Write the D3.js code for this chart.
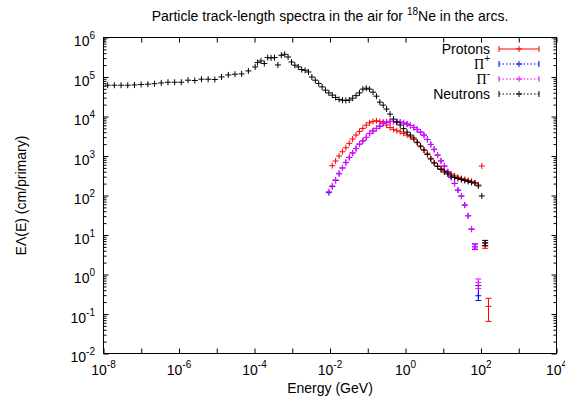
<!DOCTYPE html>
<html>
<head>
<meta charset="utf-8">
<script src="https://cdn.jsdelivr.net/npm/d3@7"></script>
<style>
  body { margin: 0; background: #fff; }
  svg { display: block; font-family: "Liberation Sans", Arial, Helvetica, sans-serif; }
</style>
</head>
<body>
<svg id="chart" width="565" height="400"></svg>
<script>
// Energy bins (GeV) of the low-energy neutron groups
const coarseE = [1.29e-8, 1.94e-8, 2.92e-8, 4.39e-8, 6.61e-8, 9.94e-8, 1.50e-7, 2.25e-7, 3.39e-7,
  5.10e-7, 7.67e-7, 1.15e-6, 1.74e-6, 2.62e-6, 3.94e-6, 5.92e-6, 8.91e-6, 1.34e-5, 2.02e-5,
  3.04e-5, 4.57e-5, 6.88e-5, 1.04e-4];

// Track-length of neutrons in the low-energy groups (cm/primary, times E)
const neutronLow = [61900, 61900, 61900, 61900, 63000, 64600, 65800, 67700, 70900,
  73800, 73800, 73800, 83000, 81500, 87900, 87900, 86300, 100400, 113000,
  117500, 119700, 142600, 179900];

// Energy bins (GeV) of the high-energy scoring
const fineE = [9.77e-5, 1.20e-4, 1.48e-4, 1.82e-4, 2.24e-4, 2.75e-4, 3.39e-4, 4.17e-4, 5.13e-4,
  6.31e-4, 7.76e-4, 9.55e-4, 1.17e-3, 1.45e-3, 1.78e-3, 2.19e-3, 2.69e-3, 3.31e-3, 4.07e-3,
  5.01e-3, 6.17e-3, 7.59e-3, 9.33e-3, 1.15e-2, 1.41e-2, 1.74e-2, 2.14e-2, 2.63e-2, 3.24e-2,
  3.98e-2, 4.90e-2, 6.03e-2, 7.41e-2, 9.12e-2, 0.112, 0.138, 0.170, 0.209, 0.257,
  0.316, 0.389, 0.479, 0.589, 0.724, 0.891, 1.10, 1.35, 1.66, 2.04,
  2.51, 3.09, 3.80, 4.68, 5.75, 7.08, 8.71, 10.7, 13.2, 16.2,
  20.0, 24.5, 30.2, 37.2, 45.7, 56.2, 69.2, 85.1, 105, 129, 158];

// Values on the high-energy bins (null = no entry)
const neutronHigh = [null, 232000, 255000, 219000, 310000, 305000, 310000, 202000, 355000,
  376000, 321000, 240000, 199000, 180000, 154000, 148000, 134000, 100000, 83000,
  68400, 56200, 46400, 39600, 34700, 30300, 27000, 25900, 25500, 26200,
  29100, 33700, 39600, 49200, 52100, 49200, 41300, 32700, 23100, 19400,
  15400, 11500, 8590, 7210, 6060, 4940, 4030, 3390, 2850, 2250,
  1790, 1420, 1090, 839, 665, 543, 456, 394, 351, 313,
  287, 270, 255, 240, 227, 214, 208, 175, 97.7, 6.24, null];

const protons = [null, null, null, null, null, null, null, null, null,
  null, null, null, null, null, null, null, null, null, null,
  null, null, null, null, 569, 747, 1000, 1280, 1620, 2090,
  2690, 3390, 4200, 5000, 6060, 6930, 7510, 7780, 7510, 7210,
  6060, 5240, 4720, 4350, 4090, 3740, 3390, 3070, 2640, 2160,
  1720, 1420, 1170, 875, 677, 558, 478, 426, 379, 351,
  313, 290, 270, 255, 240, 227, 208, 185, 558, 5.42, 0.156];

const piPlus = [null, null, null, null, null, null, null, null, null,
  null, null, null, null, null, null, null, null, null, null,
  null, null, null, 118, 168, 240, 355, 495, 680, 915,
  1190, 1540, 1990, 2410, 2940, 3700, 4320, 4980, 5690, 6650,
  7180, 7480, 7500, 7330, 7200, 6900, 6400, 5930, 5290, 4700,
  4010, 3370, 2620, 1960, 1470, 1050, 750, 552, 397, 287,
  202, 136, 96, 57, 30.5, 14.0, 5.0, 0.29, null, null, null];

const piMinus = [null, null, null, null, null, null, null, null, null,
  null, null, null, null, null, null, null, null, null, null,
  null, null, null, 125, 175, 248, 365, 506, 693, 927,
  1210, 1560, 2010, 2430, 2960, 3740, 4350, 5000, 5710, 6690,
  7210, 7510, 7510, 7340, 7210, 6920, 6420, 5950, 5300, 4720,
  4030, 3390, 2640, 1970, 1480, 1060, 760, 558, 401, 290,
  204, 138, 97.7, 57.8, 31.0, 14.3, 5.12, 0.62, null, null, null];

// Statistical error bars large enough to show: [energy, low, high]
const protonErr = [[158, 0.065, 0.25], [129, 4.6, 6.4]];
const piPlusErr = [[85.1, 0.22, 0.525], [69.2, 4.3, 5.9]];
const piMinusErr = [[85.1, 0.44, 0.77], [69.2, 4.4, 6.0]];
const neutronErr = [[129, 5.3, 7.3]];

const xTickExps = [-8, -6, -4, -2, 0, 2, 4];
const yTickExps = [-2, -1, 0, 1, 2, 3, 4, 5, 6];

const titleText = "Particle track-length spectra in the air for ";
const xLabel = "Energy (GeV)";
const yLabel = "E\u039B(E) (cm/primary)";

const seriesDefs = [
  { name: "Protons", sup: "", color: "#ff0000", dash: null, E: fineE, V: protons, err: protonErr },
  { name: "\u03A0", sup: "+", color: "#0000ff", dash: "1.5,2", E: fineE, V: piPlus, err: piPlusErr },
  { name: "\u03A0", sup: "-", color: "#ff00ff", dash: "1.5,2", E: fineE, V: piMinus, err: piMinusErr },
  { name: "Neutrons", sup: "", color: "#000000", dash: "1.5,2", E: coarseE.concat(fineE), V: neutronLow.concat(neutronHigh), err: neutronErr }
];

const svg = d3.select("#chart");
const L = 103.5, R = 556.5, T = 37.5, B = 353.5;

const x = d3.scaleLog().domain([1e-8, 1e4]).range([L, R]);
const y = d3.scaleLog().domain([1e-2, 1e6]).range([B, T]);

// Axes: ticks point into the plot and are mirrored on the opposite sides
const xMajor = d3.range(-8, 5).map(e => Math.pow(10, e));
const yMajor = d3.range(-2, 7).map(e => Math.pow(10, e));
const yMinor = [];
d3.range(-2, 6).forEach(e => { for (let m = 2; m <= 9; m++) yMinor.push(m * Math.pow(10, e)); });

const axisStyle = g => {
  g.select(".domain").remove();
  g.selectAll(".tick line").attr("stroke", "#000").attr("stroke-width", 1);
  g.selectAll(".tick text").remove();
};

svg.append("g").attr("transform", `translate(0,${B})`)
  .call(d3.axisBottom(x).tickValues(xMajor).tickSize(-5).tickFormat("")).call(axisStyle);
svg.append("g").attr("transform", `translate(0,${T})`)
  .call(d3.axisTop(x).tickValues(xMajor).tickSize(-5).tickFormat("")).call(axisStyle);
svg.append("g").attr("transform", `translate(${L},0)`)
  .call(d3.axisLeft(y).tickValues(yMajor).tickSize(-5).tickFormat("")).call(axisStyle);
svg.append("g").attr("transform", `translate(${R},0)`)
  .call(d3.axisRight(y).tickValues(yMajor).tickSize(-5).tickFormat("")).call(axisStyle);
svg.append("g").attr("transform", `translate(${L},0)`)
  .call(d3.axisLeft(y).tickValues(yMinor).tickSize(-3).tickFormat("")).call(axisStyle);
svg.append("g").attr("transform", `translate(${R},0)`)
  .call(d3.axisRight(y).tickValues(yMinor).tickSize(-3).tickFormat("")).call(axisStyle);

svg.append("rect").attr("x", L).attr("y", T).attr("width", R - L).attr("height", B - T)
  .attr("fill", "none").attr("stroke", "#000").attr("stroke-width", 1);

// Tick labels as powers of ten
const xl = svg.append("g").attr("font-size", 14).attr("fill", "#000");
xTickExps.forEach(e => {
  const t = xl.append("text").attr("x", x(Math.pow(10, e))).attr("y", 374.5).attr("text-anchor", "middle");
  t.append("tspan").text("10");
  t.append("tspan").attr("dy", -7).attr("font-size", 10).text(e);
});
yTickExps.forEach(e => {
  const t = xl.append("text").attr("x", 95).attr("y", y(Math.pow(10, e)) + 8.5).attr("text-anchor", "end");
  t.append("tspan").text("10");
  t.append("tspan").attr("dy", -7).attr("font-size", 10).text(e);
});

// Title and axis labels
const title = svg.append("text").attr("x", 330).attr("y", 21).attr("text-anchor", "middle")
  .attr("font-size", 14);
title.append("tspan").text(titleText);
title.append("tspan").attr("dy", -6).attr("font-size", 10).text("18");
title.append("tspan").attr("dy", 6).text("Ne in the arcs.");

svg.append("text").attr("x", 330).attr("y", 393).attr("text-anchor", "middle")
  .attr("font-size", 14).text(xLabel);
svg.append("text").attr("transform", `translate(26,${(T + B) / 2}) rotate(-90)`)
  .attr("text-anchor", "middle").attr("font-size", 14).text(yLabel);

// Point marks and error bars
const crossPath = (px, py, s) => `M${px - s},${py}H${px + s}M${px},${py - s}V${py + s}`;

seriesDefs.forEach(s => {
  const g = svg.append("g").attr("stroke", s.color).attr("stroke-width", 1).attr("fill", "none");
  const pts = s.E.map((e, i) => ({ e, v: s.V[i] })).filter(d => d.v != null);
  g.selectAll("path.pt").data(pts).join("path").attr("class", "pt")
    .attr("d", d => crossPath(x(d.e), y(d.v), 3));
  g.selectAll("path.err").data(s.err).join("path").attr("class", "err")
    .attr("d", d => {
      const px = x(d[0]), y0 = y(d[1]), y1 = y(d[2]);
      return `M${px},${y0}V${y1}M${px - 3},${y0}H${px + 3}M${px - 3},${y1}H${px + 3}`;
    });
});

// Legend
const leg = svg.append("g");
seriesDefs.forEach((s, i) => {
  const ly = 49 + i * 15;
  const t = leg.append("text").attr("x", 490).attr("y", ly + 5).attr("text-anchor", "end").attr("font-size", 14);
  if (s.sup) {
    t.append("tspan").attr("font-family", "'Liberation Serif', 'Times New Roman', serif").text(s.name);
    t.append("tspan").attr("dy", -7).attr("font-size", 10).text(s.sup);
  } else {
    t.text(s.name);
  }
  const g = leg.append("g").attr("stroke", s.color).attr("stroke-width", 1).attr("fill", "none");
  g.append("line").attr("x1", 499).attr("x2", 539).attr("y1", ly).attr("y2", ly)
    .attr("stroke-dasharray", s.dash);
  g.append("path").attr("d", `M499,${ly - 3}V${ly + 3}M539,${ly - 3}V${ly + 3}`);
  g.append("path").attr("d", crossPath(519, ly, 3));
});
</script>
</body>
</html>
